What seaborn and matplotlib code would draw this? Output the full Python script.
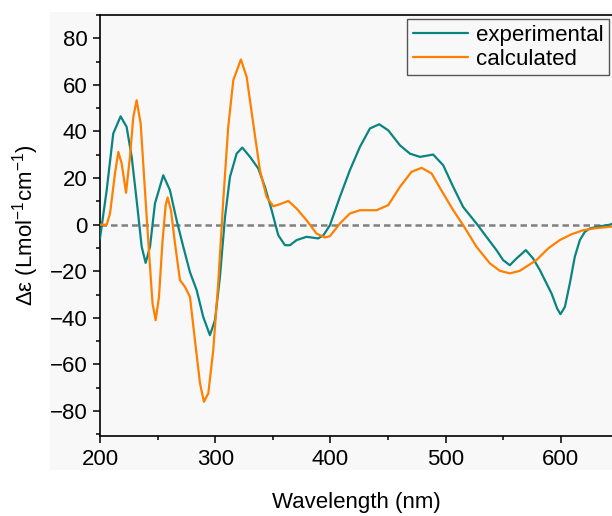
import numpy as np
import pandas as pd
import matplotlib
matplotlib.use("Agg")
import matplotlib.pyplot as plt
import seaborn as sns
from matplotlib.patches import Rectangle

# ---- data ----
exp_x = [200, 205.8, 211.5, 217.9, 223.1, 227.5, 231.8, 236.2, 239.6, 243.4, 247.7,
         254.9, 260.7, 266.5, 272.3, 278.1, 283.9, 289.6, 295.4, 299.8, 304.1, 308.5,
         312.8, 318.6, 323.5, 330.2, 337.4, 343.2, 349, 354.7, 360.5, 364.9, 370.7,
         379.3, 389.4, 394, 399.6, 408.2, 416.9, 425.6, 434.3, 442.3, 450.2, 460.3,
         469, 477.7, 489.2, 497.9, 506.6, 515.2, 526.8, 535.4, 544.1, 549.9, 555.7,
         561.5, 569.6, 575.9, 581.8, 591.9, 596.8, 599.7, 603.5, 607.8, 612.1, 616.5,
         620.8, 625.2, 633, 642.5, 645]
exp_y = [-5.9, 14.8, 39.1, 46.5, 42, 29.1, 10.5, -9.5, -16.4, -9.5, 9.1,
         21.2, 14.8, 1.9, -9.5, -20.4, -28.1, -39.6, -47.4, -41, -22.4, 3.3,
         20.5, 30.5, 33.1, 29.1, 24.1, 16.2, 6.2, -4.5, -8.8, -8.8, -6.6,
         -5.2, -5.9, -4.5, -0.2, 11.9, 23.4, 33.4, 41.3, 43.1, 40.5, 34.1,
         30.5, 29.1, 30.1, 25.5, 16.2, 7.6, 0.5, -5.2, -10.9, -15.2, -17.4,
         -14.5, -10.9, -14.5, -19.5, -29.5, -36, -38.4, -35.3, -25.2, -13.8, -6.6,
         -3.1, -1.6, -0.8, 0, 0.5]

calc_x = [200, 205.8, 208.7, 213, 215.9, 218.8, 222.6, 226, 228.9, 231.8, 235.3, 239,
          242.8, 245.6, 248.3, 251.2, 254.1, 257, 258.7, 261.6, 265.1, 269.4, 273.8,
          276.6, 278.1, 282.4, 286.8, 290.2, 294, 298.3, 302.6, 307, 311.3, 315.7,
          322.3, 327.3, 333, 338.8, 344.6, 350.4, 356.2, 363.4, 370.7, 379.3, 387.9,
          395.2, 399.6, 408.2, 416.9, 425.6, 440.1, 450.2, 460.3, 470.4, 479.1, 487.8,
          497.9, 506.6, 515.2, 526.8, 538.4, 547.1, 555.7, 564.4, 578.8, 589, 599.1,
          609.3, 619.3, 630, 642.5, 645]
calc_y = [0, 0, 4.8, 22, 31.2, 26.3, 13.7, 29.1, 46.2, 53.4, 43.4, 14.8,
          -13.8, -33.8, -41, -31, -8.1, 8.4, 11.7, 6.2, -8.1, -23.8, -26.7,
          -29.5, -31, -49.6, -68.1, -76, -72.4, -53.8, -25.2, 10.5, 42, 62,
          70.9, 63.4, 43.4, 23.4, 11.9, 7.9, 8.8, 10.2, 6.9, 1.9, -3.8,
          -5.5, -4.9, 0.5, 4.8, 6.2, 6.2, 8.4, 16.2, 22.7, 24.4, 22,
          13.4, 6.2, -0.2, -9.5, -16.6, -19.8, -20.9, -19.8, -15.2, -10.2, -6.6,
          -4.1, -2.4, -1.5, -0.9, -0.8]

series_names = ["experimental", "calculated"]
x_ticks = [200, 300, 400, 500, 600]
y_ticks = [-80, -60, -40, -20, 0, 20, 40, 60, 80]

df = pd.concat([
    pd.DataFrame({"Wavelength": exp_x, "value": exp_y, "series": series_names[0]}),
    pd.DataFrame({"Wavelength": calc_x, "value": calc_y, "series": series_names[1]}),
], ignore_index=True)

sns.set_theme(style="ticks")
plt.rcParams["font.family"] = ["Liberation Sans", "DejaVu Sans"]
plt.rcParams["mathtext.fontset"] = "custom"
plt.rcParams["mathtext.rm"] = "Liberation Sans"
plt.rcParams["mathtext.it"] = "Liberation Sans"
plt.rcParams["text.color"] = "black"
plt.rcParams["axes.labelcolor"] = "black"
plt.rcParams["xtick.color"] = "black"
plt.rcParams["ytick.color"] = "black"

fig = plt.figure(figsize=(6.12, 5.16), dpi=100, facecolor="white")
# light grey panel behind plot and tick labels
bg = Rectangle((50 / 612, 46 / 516), 562 / 612, 458 / 516,
               transform=fig.transFigure, facecolor="#f8f8f8",
               edgecolor="none", zorder=-10)
fig.patches.append(bg)
ax = fig.add_axes([100 / 612, 80 / 516, 512 / 612, 421 / 516])
ax.set_zorder(5)
ax.set_facecolor("#f8f8f8")

ax.axhline(0, color="#808080", lw=1.8, dashes=(2.6, 1.6), zorder=1)

palette = {"experimental": "#0a8481", "calculated": "#ff8000"}
sns.lineplot(data=df, x="Wavelength", y="value", hue="series", palette=palette,
             estimator=None, sort=False, lw=1.6, ax=ax, zorder=3)
for ln in ax.get_lines():
    ln.set_solid_joinstyle("round")

ax.set_xlim(200, 644.4)
ax.set_ylim(-90.7, 89.9)
ax.set_xticks(x_ticks)
ax.set_yticks(y_ticks)
ax.set_xticks([250, 350, 450, 550], minor=True)
ax.set_yticks([-90, -70, -50, -30, -10, 10, 30, 50, 70, 90], minor=True)
ax.tick_params(axis="both", which="major", direction="out", length=5, width=1.1,
               labelsize=16, color="black", labelcolor="black", pad=4)
ax.tick_params(axis="both", which="minor", direction="out", length=3, width=1.1,
               color="black")
ax.tick_params(axis="x", pad=4.5)

for s in ["left", "bottom", "top"]:
    ax.spines[s].set_linewidth(1.2)
    ax.spines[s].set_color("black")
ax.spines["right"].set_visible(False)

ax.set_xlabel("Wavelength (nm)", fontsize=16, labelpad=16, color="black")
ax.set_ylabel("Δε (Lmol$^{-1}$cm$^{-1}$)", fontsize=16, labelpad=6, color="black")

leg = ax.legend(loc="upper left", bbox_to_anchor=((407 - 100) / 512, (436 - 19) / 421),
                fontsize=16, frameon=True, fancybox=False, handlelength=2.5,
                borderpad=0.25, labelspacing=0.15, handletextpad=0.35, borderaxespad=0)
leg.get_frame().set_edgecolor("#555555")
leg.get_frame().set_linewidth(1.0)
leg.get_frame().set_facecolor("#f8f8f8")
leg.get_frame().set_alpha(1)
for t in leg.get_texts():
    t.set_color("black")

fig.savefig("out.png", dpi=100)
